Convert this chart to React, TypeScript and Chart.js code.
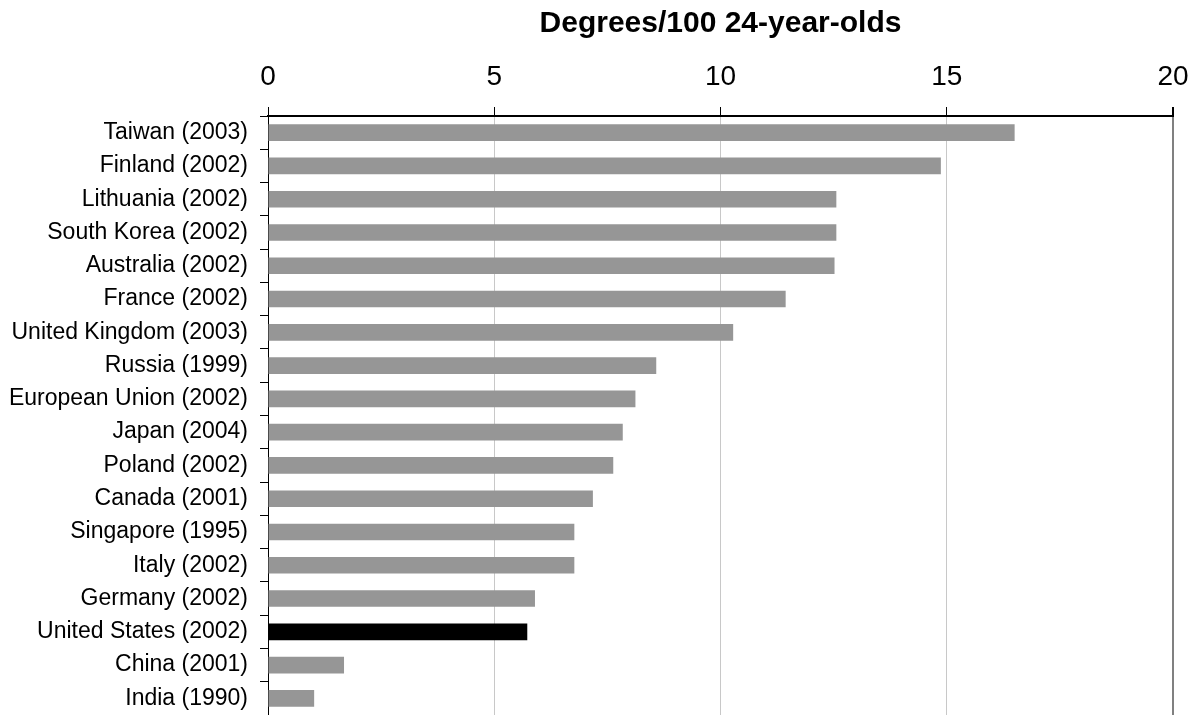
import React, { useEffect, useRef } from "react";
import { Chart, registerables } from "chart.js";

Chart.register(...registerables);

const categories = [
  "Taiwan (2003)",
  "Finland (2002)",
  "Lithuania (2002)",
  "South Korea (2002)",
  "Australia (2002)",
  "France (2002)",
  "United Kingdom (2003)",
  "Russia (1999)",
  "European Union (2002)",
  "Japan (2004)",
  "Poland (2002)",
  "Canada (2001)",
  "Singapore (1995)",
  "Italy (2002)",
  "Germany (2002)",
  "United States (2002)",
  "China (2001)",
  "India (1990)",
];

const degreesPer100 = [
  16.5, 14.87, 12.56, 12.56, 12.52, 11.44, 10.28, 8.58, 8.12, 7.84, 7.63, 7.18,
  6.77, 6.77, 5.9, 5.73, 1.68, 1.02,
];

const highlighted = ["United States (2002)"];

const xTicks = [0, 5, 10, 15, 20];
const axisTitle = "Degrees/100 24-year-olds";

const FONT = "'Liberation Sans', Arial, Helvetica, sans-serif";

export default function App() {
  const canvasRef = useRef<HTMLCanvasElement | null>(null);

  useEffect(() => {
    const canvas = canvasRef.current;
    if (!canvas) return;
    const chart = new Chart(canvas, {
      type: "bar",
      data: {
        labels: categories,
        datasets: [
          {
            data: degreesPer100,
            backgroundColor: categories.map((c) =>
              highlighted.includes(c) ? "#000000" : "#969696"
            ),
            borderWidth: 0,
            barPercentage: 0.5,
            categoryPercentage: 1,
          },
        ],
      },
      options: {
        indexAxis: "y",
        animation: false,
        responsive: false,
        maintainAspectRatio: false,
        layout: { padding: { left: 0, right: 25, top: 0, bottom: 0 } },
        plugins: {
          legend: { display: false },
          tooltip: { enabled: false },
          title: { display: false },
        },
        scales: {
          x: {
            position: "top",
            min: 0,
            max: 20,
            afterBuildTicks: (scale: any) => {
              scale.ticks = xTicks.map((v) => ({ value: v }));
            },
            afterFit: (scale: any) => {
              scale.height = 116;
              scale.paddingLeft = 0;
              scale.paddingRight = 0;
            },
            ticks: {
              color: "#000",
              font: { family: FONT, size: 28 },
              padding: 13,
              maxRotation: 0,
            },
            grid: {
              color: (ctx: any) =>
                ctx.tick && ctx.tick.value === 20 ? "#808080" : "#c8c8c8",
              lineWidth: (ctx: any) =>
                ctx.tick && ctx.tick.value === 20 ? 2 : 1,
              tickColor: "#000",
              tickLength: 9,
              drawTicks: true,
            },
            border: { display: true, color: "#000", width: 2 },
            title: {
              display: true,
              text: axisTitle,
              color: "#000",
              font: { family: FONT, size: 30, weight: "bold" },
              padding: { top: 6, bottom: 0 },
            },
          },
          y: {
            afterFit: (scale: any) => {
              scale.width = 268;
              scale.paddingTop = 0;
              scale.paddingBottom = 0;
            },
            ticks: {
              color: "#000",
              font: { family: FONT, size: 23 },
              padding: 12,
              autoSkip: false,
            },
            grid: {
              offset: true,
              drawOnChartArea: false,
              tickColor: "#000",
              tickLength: 8,
            },
            border: { display: true, color: "#000", width: 1 },
          },
        },
      },
    });
    return () => chart.destroy();
  }, []);

  return (
    <div
      style={{
        position: "fixed",
        left: 0,
        top: 0,
        width: 1198,
        height: 715,
        background: "#fff",
      }}
    >
      <canvas ref={canvasRef} width={1198} height={715} style={{ display: "block" }} />
    </div>
  );
}
